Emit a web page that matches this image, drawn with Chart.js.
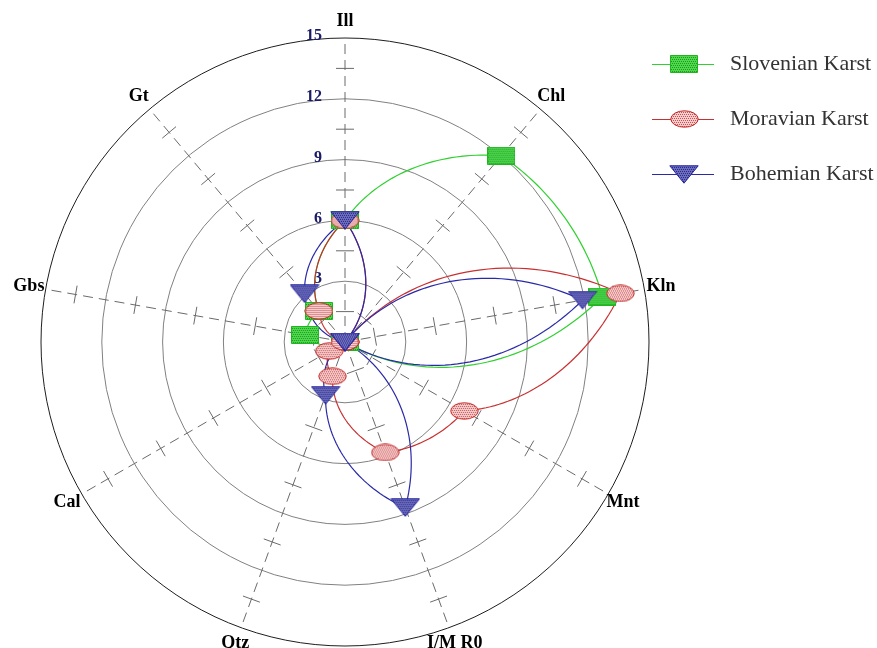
<!DOCTYPE html>
<html><head><meta charset="utf-8">
<script src="https://cdn.jsdelivr.net/npm/chart.js@4.4.0/dist/chart.umd.min.js"></script>
<style>html,body{margin:0;padding:0;background:#fff;}</style>
</head><body>
<canvas id="c" width="877" height="648"></canvas>
<script>
// ---- data ----
const categories = ['Ill', 'Chl', 'Kln', 'Mnt', 'I/M R0', 'Qtz', 'Cal', 'Gbs', 'Gt'];
const slovenian = [6, 12, 12.9, 0, 0, 0, 0, 2, 2];
const moravian  = [6, 0, 13.8, 6.8, 5.8, 1.8, 0.9, 0, 2];
const bohemian  = [6, 0, 11.9, 0, 8.7, 2.8, 0, 0, 3.1];
const tickValues = [3, 6, 9, 12, 15];
const minorTickValues = [1.5, 4.5, 7.5, 10.5, 13.5];
const seriesNames = ['Slovenian Karst', 'Moravian Karst', 'Bohemian Karst'];

// ---- styling ----
const lineColors = ['#2fd02f', '#c83030', '#2a2aa8'];

function makeMarker(kind) {
  const c = document.createElement('canvas');
  let w, h;
  if (kind === 'rect') { w = 28; h = 18; } else if (kind === 'ellipse') { w = 29; h = 18; } else { w = 30; h = 19; }
  c.width = w; c.height = h;
  const g = c.getContext('2d');
  const path = () => {
    g.beginPath();
    if (kind === 'rect') g.rect(0.5, 0.5, w - 1, h - 1);
    else if (kind === 'ellipse') g.ellipse(w / 2, h / 2, w / 2 - 0.8, h / 2 - 0.8, 0, 0, Math.PI * 2);
    else { g.moveTo(0.8, 0.8); g.lineTo(w - 0.8, 0.8); g.lineTo(w / 2, h - 0.8); g.closePath(); }
  };
  const pal = {
    rect: ['#4ed84e', '#1f9a1f', '#1fb51f'],
    ellipse: ['#f4cccc', '#c85050', '#c42828'],
    tri: ['#6c6cbc', '#2a2a8a', '#2626a0']
  }[kind];
  path(); g.fillStyle = pal[0]; g.fill();
  g.save(); path(); g.clip(); g.fillStyle = pal[1];
  for (let y = 0; y < h; y += 2) for (let x = (y / 2) % 2; x < w; x += 2) g.fillRect(x, y, 1, 1);
  g.restore();
  path(); g.strokeStyle = pal[2]; g.lineWidth = 1; g.stroke();
  return c;
}
const markers = [makeMarker('rect'), makeMarker('ellipse'), makeMarker('tri')];
const seriesData = [slovenian, moravian, bohemian];

const decor = {
  id: 'decor',
  beforeDatasetsDraw(chart) {
    const s = chart.scales.r, ctx = chart.ctx, n = categories.length;
    ctx.save();
    // minor cross ticks on the axes
    ctx.strokeStyle = '#6a6a6a'; ctx.lineWidth = 1;
    for (let i = 0; i < n; i++) {
      for (const v of minorTickValues) {
        const p = s.getPointPosition(i, s.getDistanceFromCenterForValue(v));
        const nx = -Math.sin(p.angle), ny = Math.cos(p.angle);
        ctx.beginPath();
        ctx.moveTo(p.x - nx * 9, p.y - ny * 9);
        ctx.lineTo(p.x + nx * 9, p.y + ny * 9);
        ctx.stroke();
      }
    }
    // radial tick labels
    ctx.font = 'bold 16px "Liberation Serif"';
    ctx.fillStyle = '#1a1a66'; ctx.textAlign = 'right'; ctx.textBaseline = 'middle';
    for (const v of tickValues) {
      ctx.fillText(String(v), s.xCenter - 23, s.yCenter - s.getDistanceFromCenterForValue(v) - 2);
    }
    // series curves, linear in angle/radius between neighbouring axes
    chart.data.datasets.forEach((ds) => {
      const vals = ds.data;
      ctx.beginPath();
      const steps = 40;
      for (let i = 0; i < n; i++) {
        const a = vals[i], b = vals[(i + 1) % n];
        for (let st = 0; st <= steps; st++) {
          const t = st / steps;
          const p = s.getPointPosition(i + t, s.getDistanceFromCenterForValue(a + (b - a) * t));
          if (i === 0 && st === 0) ctx.moveTo(p.x, p.y); else ctx.lineTo(p.x, p.y);
        }
      }
      ctx.closePath();
      ctx.strokeStyle = ds.borderColor; ctx.lineWidth = 1.2;
      ctx.stroke();
    });
    ctx.restore();
  },
  afterDraw(chart) {
    const s = chart.scales.r, ctx = chart.ctx;
    ctx.save();
    // axis (point) labels
    ctx.font = 'bold 18px "Liberation Serif"';
    ctx.fillStyle = '#000'; ctx.textAlign = 'center'; ctx.textBaseline = 'middle';
    categories.forEach((lab, i) => {
      const p = s.getPointPosition(i, s.drawingArea + 17);
      ctx.fillText(lab, p.x, p.y);
    });
    // legend
    const lx = 652, lw = 62, tx = 730, ys = [64, 119, 174];
    ctx.font = '22px "Liberation Serif"';
    ctx.textAlign = 'left';
    chart.data.datasets.forEach((ds, k) => {
      const y = ys[k];
      ctx.strokeStyle = ds.borderColor; ctx.lineWidth = 1.2;
      ctx.beginPath(); ctx.moveTo(lx, y + 0.5); ctx.lineTo(lx + lw, y + 0.5); ctx.stroke();
      const m = markers[k];
      ctx.drawImage(m, Math.round(lx + lw / 2 - m.width / 2 + 1), Math.round(y - m.height / 2));
      ctx.fillStyle = '#333';
      ctx.fillText(ds.label, tx, y);
    });
    ctx.restore();
  }
};

const datasets = seriesData.map((d, k) => ({
  label: seriesNames[k],
  data: d,
  borderColor: lineColors[k],
  backgroundColor: 'transparent',
  showLine: false,
  fill: false,
  pointStyle: markers[k],
  pointRadius: 10,
  pointHoverRadius: 10,
  order: 2 - k
}));

new Chart(document.getElementById('c'), {
  type: 'radar',
  data: { labels: categories, datasets },
  options: {
    responsive: false,
    animation: false,
    events: [],
    layout: { padding: { left: 41, top: 38, right: 227, bottom: 1 } },
    plugins: { legend: { display: false }, tooltip: { enabled: false }, title: { display: false } },
    scales: {
      r: {
        min: 0, max: 15,
        startAngle: 0,
        ticks: { display: false, stepSize: 3 },
        grid: {
          circular: true,
          color: (c) => (c.tick && c.tick.value === 15 ? '#1e1e1e' : '#808080'),
          lineWidth: 1
        },
        angleLines: { display: true, color: '#6a6a6a', lineWidth: 1, borderDash: [10, 6] },
        pointLabels: { display: false }
      }
    }
  },
  plugins: [decor]
});
</script>
</body></html>
